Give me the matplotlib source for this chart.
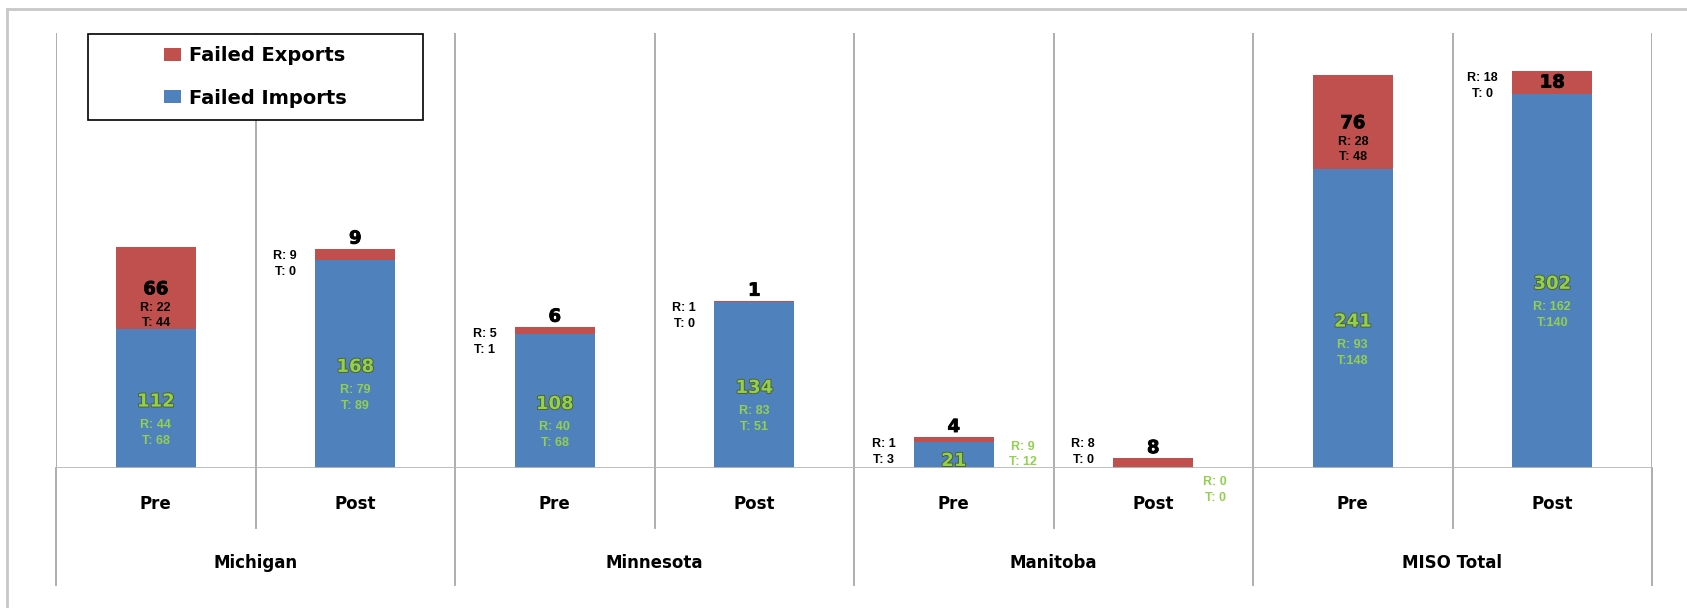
import matplotlib
matplotlib.use("Agg")
import matplotlib.pyplot as plt
import matplotlib.patheffects as pe
import matplotlib.transforms as mtransforms
from matplotlib.patches import Rectangle
from matplotlib.lines import Line2D

# ---- data -------------------------------------------------------------
regions = ["Michigan", "Minnesota", "Manitoba", "MISO Total"]
periods = ["Pre", "Post"]
failed_imports = [112, 168, 108, 134, 21, 0, 241, 302]
failed_exports = [66, 9, 6, 1, 4, 8, 76, 18]
imports_r = [44, 79, 40, 83, 9, 0, 93, 162]
imports_t = [68, 89, 68, 51, 12, 0, 148, 140]
exports_r = [22, 9, 5, 1, 1, 8, 28, 18]
exports_t = [44, 0, 1, 0, 3, 0, 48, 0]

# ---- annotation layout per bar ----------------------------------------
export_layout = ["inside", "above", "above", "above", "above", "above", "inside", "mixed"]
import_layout = ["inside", "inside", "inside", "inside", "right", "below", "inside", "inside"]
import_t_compact = [False, False, False, False, False, False, True, True]

RED = "#C0504D"
BLUE = "#4F81BD"
GREEN = "#92D050"
GRID = "#a8a8a8"

W, H = 1687, 608
fig = plt.figure(figsize=(W / 100, H / 100), dpi=100)
fig.patch.set_facecolor("white")

x0, x1, y_base, y_top = 56, 1652, 468, 33
ax = fig.add_axes([x0 / W, (H - y_base) / H, (x1 - x0) / W, (y_base - y_top) / H])
ax.set_xlim(0, 8)
ax.set_ylim(0, 351)
ax.axis("off")

n = len(failed_imports)
xs = [i + 0.5 for i in range(n)]
imp_bars = ax.bar(xs, failed_imports, width=0.4, color=BLUE, zorder=3, label="Failed Imports")
exp_bars = ax.bar(xs, failed_exports, width=0.4, bottom=failed_imports, color=RED, zorder=3,
                  label="Failed Exports")

# vertical grid and baseline
for b in range(n + 1):
    ax.axvline(b, color=GRID, lw=1.3, zorder=1)
ax.axhline(0, color="#b8b8b8", lw=2, zorder=4)

# two-level category axis below the plot
blend = mtransforms.blended_transform_factory(ax.transData, ax.transAxes)
inner_end = (y_base - 528) / (y_base - y_top)
outer_end = (y_base - 585) / (y_base - y_top)
for b in range(n + 1):
    end = outer_end if b % 2 == 0 else inner_end
    ax.add_line(Line2D([b, b], [0, end], transform=blend, color=GRID, lw=1.3, clip_on=False))

py = (y_base - 504) / (y_base - y_top)
ry = (y_base - 563) / (y_base - y_top)
for i, x in enumerate(xs):
    ax.text(x, py, periods[i % 2], transform=blend, ha="center", va="center",
            fontsize=12, fontweight="bold", family="DejaVu Sans")
for g, name in enumerate(regions):
    ax.text(2 * g + 1, ry, name, transform=blend, ha="center", va="center",
            fontsize=12, fontweight="bold", family="DejaVu Sans")

# ---- value labels -----------------------------------------------------
px_per_unit = ax.transData.transform((0, 1))[1] - ax.transData.transform((0, 0))[1]
num_font = dict(fontsize=13, fontweight="bold", family="DejaVu Sans", ha="center", va="center")
rt_font = dict(fontsize=9, fontweight="bold", family="Liberation Sans", ha="center", va="center")
green_fx = [pe.withStroke(linewidth=1.3, foreground="#4f5e22")]
black_fx = [pe.withStroke(linewidth=0.6, foreground="black")]


def put(text, xy, dx, dy, style, color="black", effects=None):
    t = ax.annotate(text, xy=xy, xytext=(dx, dy), textcoords="offset pixels",
                    color=color, zorder=6, annotation_clip=False, **style)
    if effects:
        t.set_path_effects(effects)
    return t


for i, x in enumerate(xs):
    imp, exp = failed_imports[i], failed_exports[i]
    top = imp + exp

    # failed imports
    t_sep = "" if import_t_compact[i] else " "
    r_txt = f"R: {imports_r[i]}"
    t_txt = f"T:{t_sep}{imports_t[i]}"
    mode = import_layout[i]
    if mode == "inside":
        put(str(imp), (x, imp / 2), 0, -3, num_font, GREEN, green_fx)
        put(r_txt, (x, imp / 2), 0, -26, rt_font, GREEN)
        put(t_txt, (x, imp / 2), 0, -42, rt_font, GREEN)
    elif mode == "right":
        put(str(imp), (x, imp / 2), 0, -6, num_font, GREEN, green_fx)
        put(r_txt, (x, 0), 69, 21, rt_font, GREEN)
        put(t_txt, (x, 0), 69, 6, rt_font, GREEN)
    else:  # below
        put(r_txt, (x, 0), 62, -14, rt_font, GREEN)
        put(t_txt, (x, 0), 62, -30, rt_font, GREEN)

    # failed exports
    r_txt = f"R: {exports_r[i]}"
    t_txt = f"T: {exports_t[i]}"
    mode = export_layout[i]
    mid = imp + exp / 2
    if mode == "inside":
        put(str(exp), (x, mid), 0, -1, num_font, effects=black_fx)
        put(r_txt, (x, mid), 0, -19.5, rt_font)
        put(t_txt, (x, mid), 0, -35, rt_font)
    else:
        if mode == "above":
            put(str(exp), (x, top), 0, 10, num_font, effects=black_fx)
        else:
            put(str(exp), (x, mid), 0, 0, num_font, effects=black_fx)
        r_up = max(top * px_per_unit - 7, 24)
        put(r_txt, (x, 0), -70, r_up, rt_font)
        put(t_txt, (x, 0), -70, r_up - 16, rt_font)

# ---- legend -----------------------------------------------------------
lx0, lx1, ly0, ly1 = 88, 423, 34, 120
fig.patches.append(Rectangle((lx0 / W, (H - ly1) / H), (lx1 - lx0) / W, (ly1 - ly0) / H,
                             transform=fig.transFigure, facecolor="white", edgecolor="black",
                             lw=1.2, zorder=4))
fig.legend(handles=[exp_bars, imp_bars], labels=["Failed Exports", "Failed Imports"],
           loc="center", bbox_to_anchor=((lx0 + lx1) / 2 / W, (H - (ly0 + ly1) / 2) / H),
           frameon=False, prop=dict(family="DejaVu Sans", weight="bold", size=14),
           handlelength=0.88, handleheight=0.67, handletextpad=0.4, labelspacing=1.2)

# outer frame edges
fig.add_artist(Line2D([7 / W, 1.0], [(H - 9) / H] * 2, transform=fig.transFigure,
                      color="#c8c8c8", lw=2))
fig.add_artist(Line2D([7 / W] * 2, [0, (H - 9) / H], transform=fig.transFigure,
                      color="#c8c8c8", lw=2))

fig.savefig("out.png", dpi=100, facecolor="white")
